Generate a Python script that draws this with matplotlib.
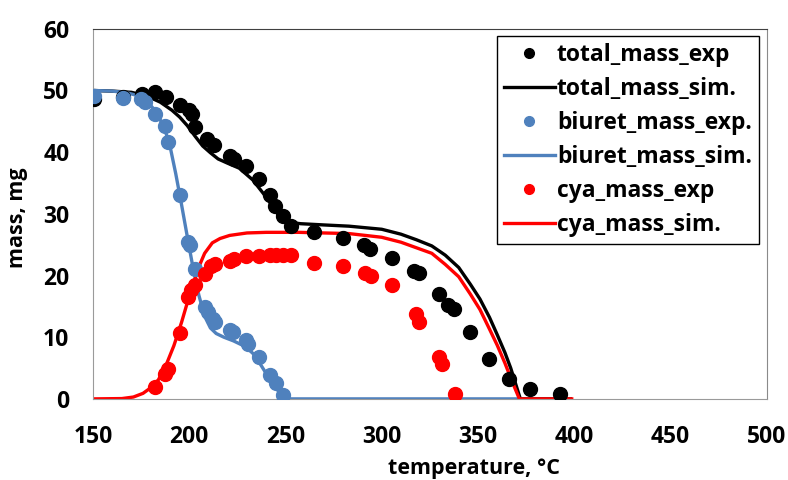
import numpy as np
import matplotlib.pyplot as plt

# experimental points
total_exp_t = [150.5, 165.7, 175.5, 182, 188, 195, 200, 201.5, 203, 209, 213, 221, 223.5, 229.6,
               236.5, 241.7, 244.3, 248.6, 253, 265, 279.7, 291, 294, 305.5, 317, 319.5, 329.7,
               334.5, 337.5, 346, 355.6, 366, 377, 392.7]
total_exp_m = [48.6, 48.9, 49.4, 49.7, 48.9, 47.6, 46.8, 46.2, 44.0, 42.1, 41.2, 39.4, 38.9, 37.8,
               35.7, 33.0, 31.3, 29.7, 28.0, 27.0, 26.1, 24.9, 24.3, 22.9, 20.8, 20.4, 17.0,
               15.2, 14.6, 10.8, 6.5, 3.3, 1.6, 0.8]

biuret_exp_t = [150.5, 165.4, 175.2, 176.9, 182.1, 187.3, 189, 195, 199.4, 200.2, 202.8, 208,
                209.7, 212.3, 213.2, 221, 222.7, 229.6, 230.4, 236.5, 241.7, 245.1, 248.6]
biuret_exp_m = [49.1, 48.8, 48.6, 48.1, 46.2, 44.3, 41.6, 33.0, 25.4, 24.9, 21.1, 14.9,
                14.1, 13.0, 12.4, 11.1, 10.8, 9.5, 8.9, 6.8, 3.8, 2.5, 0.6]

cya_exp_t = [182.1, 187.3, 189, 195, 199.4, 201.1, 202.8, 208, 211.4, 213.2, 221, 223.5, 229.6,
             236.5, 241.7, 245.1, 248.6, 252.9, 265, 279.7, 291.3, 294.3, 305.5, 317.6, 319.4,
             329.7, 331.4, 338]
cya_exp_m = [1.9, 4.1, 4.9, 10.6, 16.5, 17.6, 18.4, 20.3, 21.6, 21.9, 22.4, 22.7, 23.1,
             23.2, 23.4, 23.4, 23.4, 23.4, 22.0, 21.6, 20.4, 20.0, 18.5, 13.8, 12.4,
             6.8, 5.7, 0.8]

# simulated curves
total_sim_t = [150, 160, 170, 178, 185, 191, 195, 199, 203, 207, 211, 215, 220, 226, 233, 240,
               247, 252, 258, 270, 283, 300, 310, 318, 326, 333, 340, 346, 351, 356, 360, 364,
               367, 370, 372, 398]
total_sim_m = [50, 49.9, 49.7, 49.1, 48.1, 46.8, 45.7, 44.3, 42.6, 41.0, 39.9, 38.9, 38.2, 37.4,
               35.5, 32.7, 29.5, 28.6, 28.4, 28.2, 28.0, 27.5, 26.7, 25.8, 24.8, 23.3, 21.3,
               18.6, 16.2, 13.2, 10.4, 7.5, 5.0, 2.0, 0, 0]

biuret_sim_t = [150, 160, 168, 174, 178, 181, 184, 187, 190, 193, 196, 199, 202, 205, 208, 211,
                214, 218, 223, 229, 233, 237, 241, 245, 248.6, 250, 371]
biuret_sim_m = [50, 49.9, 49.6, 49.1, 48.3, 47.2, 45.8, 44.0, 41.0, 36.5, 31.5, 26.3, 21.2,
                16.8, 13.4, 11.5, 10.6, 10.0, 9.4, 8.5, 7.4, 5.6, 3.6, 1.8, 0.3, 0, 0]

cya_sim_t = [150, 165, 171, 176, 180, 184, 188, 192, 196, 199, 202, 205, 208, 212, 216, 221,
             230, 240, 257, 283, 300, 310, 318, 326, 333, 340, 346, 351, 356, 360, 364, 367,
             369.5, 371.5, 398.7]
cya_sim_m = [0, 0.05, 0.3, 0.9, 1.8, 3.1, 5.5, 8.6, 12.4, 15.6, 18.4, 21.4, 23.6, 25.3, 26.0,
             26.5, 26.9, 27.0, 27.0, 26.8, 26.2, 25.4, 24.5, 23.6, 21.8, 19.8, 17.0, 14.5,
             11.3, 8.7, 5.8, 3.4, 1.5, 0, 0]

blue = '#4F81BD'
red = '#FF0000'

plt.rcParams['font.family'] = ['Open Sans', 'DejaVu Sans']
plt.rcParams['font.weight'] = 'bold'

fig = plt.figure(figsize=(7.88, 4.8), dpi=100)
ax = fig.add_axes([0.118, 0.169, 0.855, 0.771])

ms = 10
ax.plot(total_exp_t, total_exp_m, 'o', color='black', ms=ms, label='total_mass_exp', zorder=3)
ax.plot(total_sim_t, total_sim_m, '-', color='black', lw=2.4, label='total_mass_sim.', zorder=2)
ax.plot(biuret_exp_t, biuret_exp_m, 'o', color=blue, ms=ms, label='biuret_mass_exp.', zorder=3)
ax.plot(biuret_sim_t, biuret_sim_m, '-', color=blue, lw=2.4, label='biuret_mass_sim.', zorder=2)
ax.plot(cya_exp_t, cya_exp_m, 'o', color=red, ms=ms, label='cya_mass_exp', zorder=3)
ax.plot(cya_sim_t, cya_sim_m, '-', color=red, lw=2.4, label='cya_mass_sim.', zorder=2)

ax.set_xlim(150, 500)
ax.set_ylim(0, 60)
ax.set_xticks(np.arange(150, 501, 50))
ax.set_yticks(np.arange(0, 61, 10))
ax.tick_params(axis='x', length=0, labelsize=16.5, pad=19)
ax.tick_params(axis='y', length=0, labelsize=16.5, pad=17)
for lab in ax.get_xticklabels() + ax.get_yticklabels():
    lab.set_fontweight('bold')

ax.spines['left'].set_color('#9a9a9a')
ax.spines['bottom'].set_color('#9a9a9a')
ax.spines['right'].set_color('#8a8a8a')
ax.spines['top'].set_color('#404040')

ax.set_xlabel('temperature, °C', fontsize=15.5, fontweight='bold')
ax.xaxis.set_label_coords(0.565, -0.16)
ax.set_ylabel('mass, mg', fontsize=15.5, fontweight='bold')
ax.yaxis.set_label_coords(-0.096, 0.49)

leg = ax.legend(loc='upper right', bbox_to_anchor=(0.988, 0.981), fontsize=16.5,
                frameon=True, fancybox=False, edgecolor='black', framealpha=1,
                handlelength=2.2, handletextpad=0.1, labelspacing=0.44,
                borderpad=0.3, borderaxespad=0, numpoints=1, markerscale=0.7)
leg.get_frame().set_linewidth(1.0)
for t in leg.get_texts():
    t.set_fontweight('bold')

fig.savefig('out.png', dpi=100)
